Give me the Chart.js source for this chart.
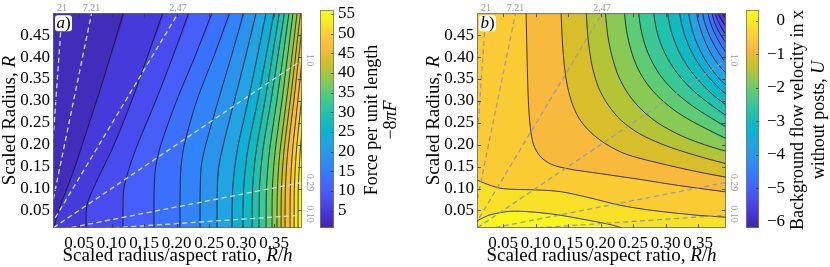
<!DOCTYPE html>
<html>
<head>
<meta charset="utf-8">
<script src="https://cdn.jsdelivr.net/npm/chart.js@4.4.1/dist/chart.umd.min.js"></script>
<style>
  html, body { margin: 0; padding: 0; background: #fff; }
  #wrap { position: relative; width: 830px; height: 267px; }
  canvas { position: absolute; top: 0; }
</style>
</head>
<body>
<div id="wrap">
  <canvas id="forceChart" style="left:0px" width="320" height="267"></canvas>
  <canvas id="forceBar" style="left:320px" width="100" height="267"></canvas>
  <canvas id="velChart" style="left:424px" width="320" height="267"></canvas>
  <canvas id="velBar" style="left:746px" width="84" height="267"></canvas>
</div>
<script>
// axes
const xRange = [0.01, 0.393];
const rRange = [0.01, 0.5];
const xTicks = [0.05, 0.10, 0.15, 0.20, 0.25, 0.30, 0.35];
const rTicks = [0.05, 0.10, 0.15, 0.20, 0.25, 0.30, 0.35, 0.40, 0.45];

// dashed lines R = h * (R/h)
const hValues = [21, 7.21, 2.47, 1.0, 0.29, 0.10];
const hLabels = ["21", "7.21", "2.47", "1.0", "0.29", "0.10"];

// panel a: force, contour x positions at each R row
const forceRange = [0.6, 56];
const forceBarTicks = [5, 10, 15, 20, 25, 30, 35, 40, 45, 50, 55];
const forceLevels = [3.37, 6.14, 8.91, 11.68, 14.45, 17.22, 19.99, 22.76, 25.53, 28.30,
  31.07, 33.84, 36.61, 39.38, 42.15, 44.92, 47.69, 50.46, 53.23];
const forceRows = [0.0, 0.06, 0.1, 0.15, 0.2, 0.3, 0.4, 0.51];
const forceContourX = [
  [0.0093, 0.021, 0.0315, 0.044, 0.055, 0.077, 0.098, 0.12],
  [0.0608, 0.062, 0.072, 0.088, 0.104, 0.131, 0.155, 0.181],
  [0.1177, 0.1177, 0.119, 0.128, 0.14, 0.168, 0.194, 0.221],
  [0.1654, 0.1654, 0.1656, 0.168, 0.176, 0.2, 0.228, 0.257],
  [0.2054, 0.2054, 0.2056, 0.207, 0.212, 0.231, 0.257, 0.284],
  [0.2362, 0.2362, 0.2365, 0.238, 0.245, 0.264, 0.284, 0.305],
  [0.2623, 0.2623, 0.2627, 0.265, 0.272, 0.289, 0.306, 0.324],
  [0.2854, 0.2856, 0.2864, 0.2897, 0.295, 0.31, 0.324, 0.339],
  [0.3023, 0.3025, 0.3032, 0.3062, 0.311, 0.3247, 0.3374, 0.351],
  [0.3162, 0.3164, 0.317, 0.3196, 0.324, 0.336, 0.3472, 0.3592],
  [0.3269, 0.3271, 0.3276, 0.3301, 0.334, 0.3453, 0.3557, 0.3669],
  [0.3377, 0.3379, 0.3384, 0.3406, 0.3442, 0.3543, 0.3637, 0.3738],
  [0.3469, 0.347, 0.3475, 0.3495, 0.3529, 0.3621, 0.3707, 0.38],
  [0.3546, 0.3547, 0.3552, 0.3571, 0.3603, 0.3691, 0.3774, 0.3862],
  [0.3608, 0.3609, 0.3614, 0.3633, 0.3663, 0.3749, 0.3829, 0.3915],
  [0.3669, 0.367, 0.3675, 0.3692, 0.3722, 0.3804, 0.388, 0.3962],
  [0.3746, 0.3747, 0.3751, 0.3767, 0.3793, 0.3866, 0.3935, 0.4008],
  [0.3808, 0.3809, 0.3812, 0.3828, 0.3852, 0.3921, 0.3985, 0.4054],
  [0.3869, 0.387, 0.3873, 0.3888, 0.391, 0.3975, 0.4035, 0.41]
];

// panel b: velocity, contours as [R/h, R] points from top/left end to right/bottom end
const velRange = [-6.19, 0.32];
const velBarTicks = [0, -1, -2, -3, -4, -5, -6];
const velLevels = [-0.0055, -0.331, -0.657, -0.982, -1.308, -1.633, -1.959, -2.284, -2.610, -2.935,
  -3.261, -3.586, -3.912, -4.237, -4.563, -4.888, -5.214, -5.539, -5.865];
const velContours = [
  [[0.004, 0.022], [0.015, 0.03], [0.03, 0.04], [0.06, 0.048], [0.09, 0.047], [0.13, 0.041], [0.18, 0.028], [0.22, 0.016], [0.245, 0.004]],
  [[0.004, 0.124], [0.02, 0.113], [0.045, 0.101], [0.07, 0.098], [0.1, 0.097], [0.138, 0.093], [0.18, 0.08], [0.23, 0.062], [0.28, 0.05], [0.35, 0.039], [0.40, 0.034]],
  [[0.0854, 0.51], [0.087, 0.4], [0.089, 0.3], [0.092, 0.24], [0.097, 0.2], [0.108, 0.172], [0.125, 0.155], [0.15, 0.145], [0.2, 0.134], [0.26, 0.121], [0.32, 0.107], [0.40, 0.091]],
  [[0.139, 0.51], [0.142, 0.42], [0.147, 0.35], [0.155, 0.3], [0.167, 0.26], [0.185, 0.228], [0.21, 0.2], [0.24, 0.178], [0.29, 0.158], [0.35, 0.138], [0.40, 0.124]],
  [[0.1777, 0.51], [0.181, 0.44], [0.187, 0.38], [0.197, 0.33], [0.212, 0.29], [0.232, 0.255], [0.26, 0.225], [0.3, 0.198], [0.35, 0.174], [0.40, 0.154]],
  [[0.2069, 0.51], [0.211, 0.45], [0.218, 0.4], [0.228, 0.355], [0.243, 0.315], [0.263, 0.28], [0.29, 0.248], [0.325, 0.22], [0.36, 0.2], [0.40, 0.182]],
  [[0.2362, 0.51], [0.24, 0.46], [0.247, 0.415], [0.257, 0.375], [0.272, 0.338], [0.292, 0.305], [0.318, 0.274], [0.35, 0.246], [0.40, 0.209]],
  [[0.2577, 0.51], [0.262, 0.465], [0.269, 0.425], [0.28, 0.387], [0.295, 0.352], [0.315, 0.32], [0.34, 0.29], [0.37, 0.261], [0.40, 0.235]],
  [[0.2808, 0.51], [0.285, 0.47], [0.292, 0.433], [0.303, 0.397], [0.318, 0.363], [0.337, 0.331], [0.36, 0.302], [0.40, 0.259]],
  [[0.3023, 0.51], [0.306, 0.475], [0.313, 0.44], [0.323, 0.405], [0.337, 0.372], [0.355, 0.34], [0.375, 0.311], [0.40, 0.284]],
  [[0.3208, 0.51], [0.324, 0.48], [0.33, 0.448], [0.339, 0.415], [0.351, 0.384], [0.366, 0.355], [0.383, 0.328], [0.40, 0.308]],
  [[0.3346, 0.51], [0.338, 0.48], [0.343, 0.452], [0.351, 0.422], [0.361, 0.394], [0.373, 0.368], [0.387, 0.344], [0.40, 0.33]],
  [[0.3469, 0.51], [0.35, 0.483], [0.355, 0.458], [0.362, 0.431], [0.371, 0.405], [0.382, 0.381], [0.40, 0.353]],
  [[0.3562, 0.51], [0.359, 0.486], [0.364, 0.462], [0.371, 0.438], [0.38, 0.414], [0.39, 0.392], [0.40, 0.375]],
  [[0.3638, 0.51], [0.367, 0.488], [0.372, 0.466], [0.379, 0.444], [0.388, 0.421], [0.40, 0.397]],
  [[0.37, 0.51], [0.373, 0.49], [0.378, 0.47], [0.385, 0.45], [0.393, 0.432], [0.40, 0.418]],
  [[0.3746, 0.51], [0.378, 0.492], [0.383, 0.475], [0.39, 0.457], [0.40, 0.439]],
  [[0.3792, 0.51], [0.382, 0.496], [0.387, 0.482], [0.393, 0.47], [0.40, 0.46]],
  [[0.3838, 0.51], [0.387, 0.5], [0.392, 0.49], [0.40, 0.48]]
];

const FONT = '"Liberation Serif", "Times New Roman", serif';

// parula colormap samples (index out of 63)
const parulaStops = [
  [0, 0.2422, 0.1504, 0.6603], [4, 0.2706, 0.2147, 0.8364], [8, 0.2813, 0.3006, 0.9414],
  [12, 0.2699, 0.3892, 0.9906], [16, 0.1963, 0.4847, 0.9892], [20, 0.1687, 0.5703, 0.9359],
  [24, 0.1248, 0.6459, 0.8883], [28, 0.0297, 0.7082, 0.8163], [32, 0.0964, 0.7500, 0.7120],
  [36, 0.2161, 0.7843, 0.5923], [40, 0.3909, 0.8029, 0.4354], [44, 0.6174, 0.7876, 0.2612],
  [48, 0.8203, 0.7498, 0.1535], [52, 0.9728, 0.7298, 0.2394], [56, 0.9892, 0.8136, 0.1885],
  [60, 0.9628, 0.9373, 0.1265], [63, 0.9769, 0.9839, 0.0805]
];

function parula(t) {
  const p = Math.min(1, Math.max(0, t)) * 63;
  let i = 0;
  while (i < parulaStops.length - 2 && parulaStops[i + 1][0] < p) i++;
  const a = parulaStops[i], b = parulaStops[i + 1];
  const f = (p - a[0]) / (b[0] - a[0]);
  const c = [1, 2, 3].map(j => Math.round(255 * (a[j] + (b[j] - a[j]) * f)));
  return `rgb(${c[0]},${c[1]},${c[2]})`;
}

function bandColor(lo, hi, range) {
  return parula(((lo + hi) / 2 - range[0]) / (range[1] - range[0]));
}

// closed shape covering the lower-left side of a contour
function lowerLeftShape(pts) {
  const first = pts[0], last = pts[pts.length - 1];
  const head = first[1] >= rRange[1] ? [[-1, 2], [first[0], 2]] : [[-1, first[1]]];
  const tail = last[0] >= xRange[1] ? [[2, last[1]]] : [[last[0], -1]];
  return [[-1, -1], ...head, ...pts, ...tail, [2, -1]].map(p => ({ x: p[0], y: p[1] }));
}

function fillSet(pts, color, order) {
  return { data: lowerLeftShape(pts), fill: 'shape', backgroundColor: color, borderColor: 'transparent',
    borderWidth: 0, pointRadius: 0, tension: 0.3, clip: 0, order };
}

function lineSet(pts) {
  return { data: pts.map(p => ({ x: p[0], y: p[1] })), fill: false, borderColor: '#111', borderWidth: 0.8,
    pointRadius: 0, tension: 0.3, clip: 0, order: 0 };
}

function dashSets(color) {
  return hValues.map(h => ({ data: [{ x: 0, y: 0 }, { x: 1, y: h }], fill: false, borderColor: color,
    borderWidth: 1.3, borderDash: [5, 3.5], pointRadius: 0, tension: 0, clip: 0, order: -1 }));
}

function drawRich(ctx, parts, x, y, angle, size, align) {
  ctx.save();
  ctx.translate(x, y);
  ctx.rotate(angle);
  ctx.textBaseline = 'middle';
  ctx.textAlign = 'left';
  ctx.fillStyle = '#000';
  const fonts = parts.map(p => (p[1] ? 'italic ' : '') + size + 'px ' + FONT);
  const widths = parts.map((p, i) => { ctx.font = fonts[i]; return ctx.measureText(p[0]).width; });
  const total = widths.reduce((a, b) => a + b, 0);
  let cx = align === 'left' ? 0 : align === 'right' ? -total : -total / 2;
  parts.forEach((p, i) => { ctx.font = fonts[i]; ctx.fillText(p[0], cx, 0); cx += widths[i]; });
  ctx.restore();
}

// panel a datasets: paint left regions from the highest level down
const forceLines = forceContourX.map(xs => forceRows.map((r, i) => [xs[i], r]).reverse());
const forceSets = [];
forceLines.forEach((pts, k) => {
  const lo = k === 0 ? forceRange[0] : forceLevels[k - 1];
  forceSets.push(fillSet(pts, bandColor(lo, forceLevels[k], forceRange), 10 + k));
  forceSets.push(lineSet(pts));
});
const forceBg = bandColor(forceLevels[forceLevels.length - 1], forceRange[1], forceRange);

// panel b datasets: paint lower-left regions from the lowest level up
const velSorted = velLevels.map((v, i) => i).sort((a, b) => velLevels[a] - velLevels[b]);
const velSets = [];
velSorted.forEach((i, n) => {
  const next = n + 1 < velSorted.length ? velLevels[velSorted[n + 1]] : velRange[1];
  velSets.push(fillSet(velContours[i], bandColor(velLevels[i], next, velRange), 100 - n));
  velSets.push(lineSet(velContours[i]));
});
const velBg = bandColor(velRange[0], velLevels[velSorted[0]], velRange);

function panelPlugin(cfg) {
  return {
    id: 'panel',
    beforeDatasetsDraw(chart) {
      const a = chart.chartArea, ctx = chart.ctx;
      ctx.save();
      ctx.fillStyle = cfg.bg;
      ctx.fillRect(a.left, a.top, a.right - a.left, a.bottom - a.top);
      ctx.restore();
    },
    afterDatasetsDraw(chart) {
      const a = chart.chartArea, ctx = chart.ctx;
      const xs = chart.scales.x, ys = chart.scales.y;
      ctx.save();
      ctx.strokeStyle = '#333';
      ctx.lineWidth = 0.8;
      ctx.beginPath();
      xTicks.forEach(v => {
        const px = Math.round(xs.getPixelForValue(v)) + 0.5;
        ctx.moveTo(px, a.bottom); ctx.lineTo(px, a.bottom - 4);
        ctx.moveTo(px, a.top); ctx.lineTo(px, a.top + 4);
      });
      rTicks.forEach(v => {
        const py = Math.round(ys.getPixelForValue(v)) + 0.5;
        ctx.moveTo(a.left, py); ctx.lineTo(a.left + 4, py);
        ctx.moveTo(a.right, py); ctx.lineTo(a.right - 4, py);
      });
      ctx.stroke();
      ctx.strokeStyle = '#666';
      ctx.strokeRect(a.left + 0.5, a.top + 0.5, a.right - a.left - 1, a.bottom - a.top - 1);

      // labels of the dashed lines
      ctx.fillStyle = '#999';
      ctx.font = '10px ' + FONT;
      hValues.forEach((h, i) => {
        if (h * xRange[1] > rRange[1]) {
          ctx.textAlign = 'center';
          ctx.textBaseline = 'alphabetic';
          ctx.fillText(hLabels[i], xs.getPixelForValue(rRange[1] / h), a.top - 2);
        } else {
          ctx.save();
          ctx.translate(a.right + 3, Math.min(ys.getPixelForValue(h * xRange[1]), a.bottom - 14));
          ctx.rotate(Math.PI / 2);
          ctx.textAlign = 'center';
          ctx.textBaseline = 'bottom';
          ctx.fillText(hLabels[i], 0, 0);
          ctx.restore();
        }
      });

      // panel letter
      ctx.fillStyle = '#fff';
      ctx.beginPath();
      ctx.roundRect(a.left + 2, a.top + 2, 17, 16, 3);
      ctx.fill();
      ctx.restore();
      drawRich(ctx, [[cfg.letter, true], [')', false]], a.left + 10.5, a.top + 10, 0, 17);
    },
    afterDraw(chart) {
      const a = chart.chartArea, ctx = chart.ctx;
      drawRich(ctx, [['Scaled radius/aspect ratio, ', false], ['R', true], ['/', false], ['h', true]],
        (a.left + a.right) / 2, 256, 0, 19);
      drawRich(ctx, [['Scaled Radius, ', false], ['R', true]], 10, (a.top + a.bottom) / 2, -Math.PI / 2, 19);
    }
  };
}

function contourChart(id, datasets, cfg) {
  return new Chart(document.getElementById(id), {
    type: 'line',
    data: { datasets },
    options: {
      responsive: false,
      animation: false,
      events: [],
      layout: { padding: { top: 10, right: 18, left: 0, bottom: 0 } },
      elements: { point: { radius: 0 }, line: { capBezierPoints: false } },
      plugins: { legend: { display: false }, tooltip: { enabled: false } },
      scales: {
        x: {
          type: 'linear', min: xRange[0], max: xRange[1],
          afterFit: s => { s.height = 39; },
          afterBuildTicks: s => { s.ticks = xTicks.map(v => ({ value: v })); },
          grid: { display: false, drawTicks: false }, border: { display: false },
          ticks: { font: { family: FONT, size: 17 }, color: '#000', padding: 5, autoSkip: false,
            maxRotation: 0, callback: v => v.toFixed(2) }
        },
        y: {
          type: 'linear', min: rRange[0], max: rRange[1],
          afterFit: s => { s.width = 53; },
          afterBuildTicks: s => { s.ticks = rTicks.map(v => ({ value: v })); },
          grid: { display: false, drawTicks: false }, border: { display: false },
          ticks: { font: { family: FONT, size: 17 }, color: '#000', padding: 3, autoSkip: false,
            callback: v => v.toFixed(2) }
        }
      }
    },
    plugins: [panelPlugin(cfg)]
  });
}

function colorBar(id, range, ticks, cfg) {
  const canvas = document.getElementById(id);
  return new Chart(canvas, {
    type: 'bar',
    data: {
      labels: [''],
      datasets: [{
        data: [range],
        barPercentage: 1,
        categoryPercentage: 1,
        borderWidth: 0,
        backgroundColor: c => {
          const a = c.chart.chartArea;
          if (!a) return '#888';
          const g = c.chart.ctx.createLinearGradient(0, a.bottom, 0, a.top);
          for (let i = 0; i <= 32; i++) g.addColorStop(i / 32, parula(i / 32));
          return g;
        }
      }]
    },
    options: {
      responsive: false,
      animation: false,
      events: [],
      layout: { padding: { top: 10, bottom: 39, left: 0, right: 0 } },
      plugins: { legend: { display: false }, tooltip: { enabled: false } },
      scales: {
        x: { display: false },
        y: {
          position: 'right', min: range[0], max: range[1],
          afterFit: s => { s.width = canvas.width - cfg.barWidth; },
          grid: { display: false, drawTicks: false }, border: { display: false },
          ticks: { display: false }
        }
      }
    },
    plugins: [{
      id: 'barDecor',
      afterDatasetsDraw(chart) {
        const a = chart.chartArea, ctx = chart.ctx, ys = chart.scales.y;
        ctx.save();
        ctx.strokeStyle = '#333';
        ctx.lineWidth = 0.8;
        ctx.beginPath();
        ticks.forEach(v => {
          const py = Math.round(ys.getPixelForValue(v)) + 0.5;
          ctx.moveTo(a.right, py); ctx.lineTo(a.right - 3, py);
        });
        ctx.stroke();
        ctx.strokeStyle = '#777';
        ctx.strokeRect(a.left + 0.5, a.top + 0.5, a.right - a.left - 1, a.bottom - a.top - 1);
        ctx.restore();
        ticks.forEach(v => {
          const label = v < 0 ? '\u2212' + Math.abs(v) : String(v);
          drawRich(ctx, [[label, false]], a.right + cfg.labelX, ys.getPixelForValue(v), 0, 17, cfg.align);
        });
      },
      afterDraw(chart) {
        const ctx = chart.ctx;
        cfg.title.forEach((line, i) => drawRich(ctx, line, cfg.titleX[i], 120, -Math.PI / 2, 18));
      }
    }]
  });
}

contourChart('forceChart', [...dashSets('rgba(228,228,228,0.95)'), ...forceSets], { bg: forceBg, letter: 'a' });
contourChart('velChart', [...dashSets('#9b9ba8'), ...velSets], { bg: velBg, letter: 'b' });

colorBar('forceBar', forceRange, forceBarTicks, {
  barWidth: 14, labelX: 4, align: 'left', titleX: [52, 71],
  title: [[['Force per unit length', false]], [['\u22128', false], ['\u03c0', true], ['F', true]]]
});
colorBar('velBar', velRange, velBarTicks, {
  barWidth: 13, labelX: 26, align: 'right', titleX: [52.5, 73.5],
  title: [[['Background flow velocity in x', false]], [['without posts, ', false], ['U', true]]]
});
</script>
</body>
</html>
